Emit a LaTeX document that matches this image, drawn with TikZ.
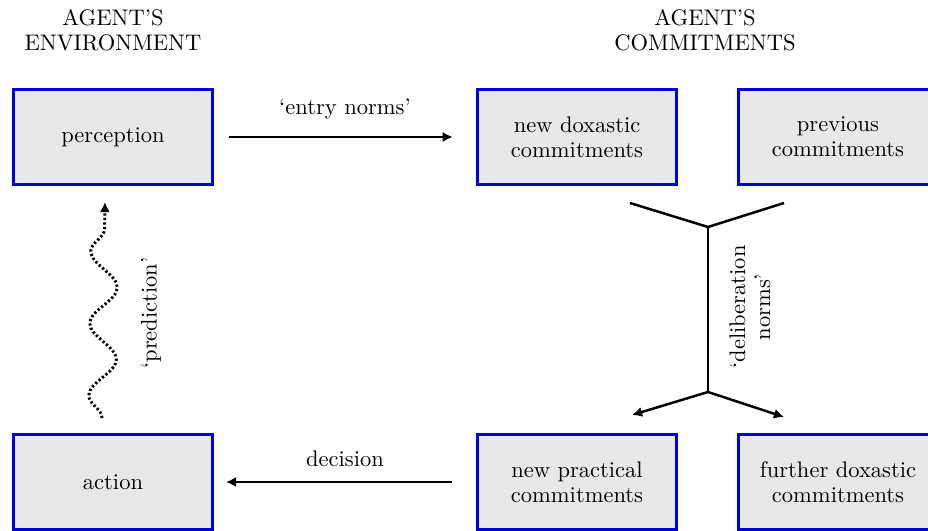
\documentclass[tikz,border=0pt]{standalone}
\usepackage{tikz}
\usetikzlibrary{arrows.meta,decorations.pathmorphing}
\definecolor{cFill}{HTML}{E8E8E8}
\definecolor{cEdge}{HTML}{0000D8}

\begin{document}
\begin{tikzpicture}[x=0.444pt,y=-0.444pt,font=\fontsize{10}{11.1}\selectfont,
    box/.style={draw=cEdge,fill=cFill,line width=1.3pt,minimum width=88pt,minimum height=42.2pt,inner sep=0pt,align=center},
    link/.style={line width=1.3pt,-{Latex[length=4.5pt,width=4.5pt]}},
    yline/.style={line width=1.1pt}]
  \useasboundingbox (0,0) rectangle (928,531);
  \clip (0,0) rectangle (928,531);
  % column heads
  \node[align=center] (envhead) at (113,30) {AGENT'S\\ENVIRONMENT};
  \node[align=center] (comhead) at (705,30) {AGENT'S\\COMMITMENTS};
  % boxes
  \foreach \n/\x/\y/\t in {perc/113/137/perception,
                           newdox/577/137/{new doxastic\\commitments},
                           prev/838/137/{previous\\commitments},
                           act/113/482/action,
                           newprac/577/482/{new practical\\commitments},
                           further/838/482/{further doxastic\\commitments}}
    {\node[box] (\n) at (\x,\y) {\t};}
  % entry and exit
  \draw[link,shorten <=7pt,shorten >=10.5pt] (perc.east) -- (newdox.west)
    node[midway,above=4pt] {`entry norms'};
  \draw[link,shorten <=11pt,shorten >=5.5pt] (newprac.west) -- (act.east)
    node[midway,above=3pt] {decision};
  % prediction
  \coordinate (pbot) at (102,418);
  \coordinate (ptop) at (105,202);
  \draw[line width=1.3pt,dash pattern=on 1pt off 1pt,decorate,
        decoration={snake,amplitude=6pt,segment length=32pt,post length=5pt},
        -{Latex[length=4.5pt,width=4.5pt]}] (pbot) -- (ptop);
  \node[rotate=90] (predlab) at (151,313) {`prediction'};
  % deliberation
  \coordinate (tl) at (630,203);
  \coordinate (tr) at (784,203);
  \coordinate (ytop) at (708,227);
  \coordinate (ybot) at (708,392);
  \coordinate (bl) at (632,415);
  \coordinate (br) at (784,417);
  \draw[yline] (tl) -- (ytop) -- (tr);
  \draw[yline] (ytop) -- (ybot);
  \draw[yline,-{Latex[length=4.5pt,width=4.5pt]}] (ybot) -- (bl);
  \draw[yline,-{Latex[length=4.5pt,width=4.5pt]}] (ybot) -- (br);
  \node[rotate=90,align=center] (delib) at (750,307) {`deliberation\\norms'};
\end{tikzpicture}
\end{document}
